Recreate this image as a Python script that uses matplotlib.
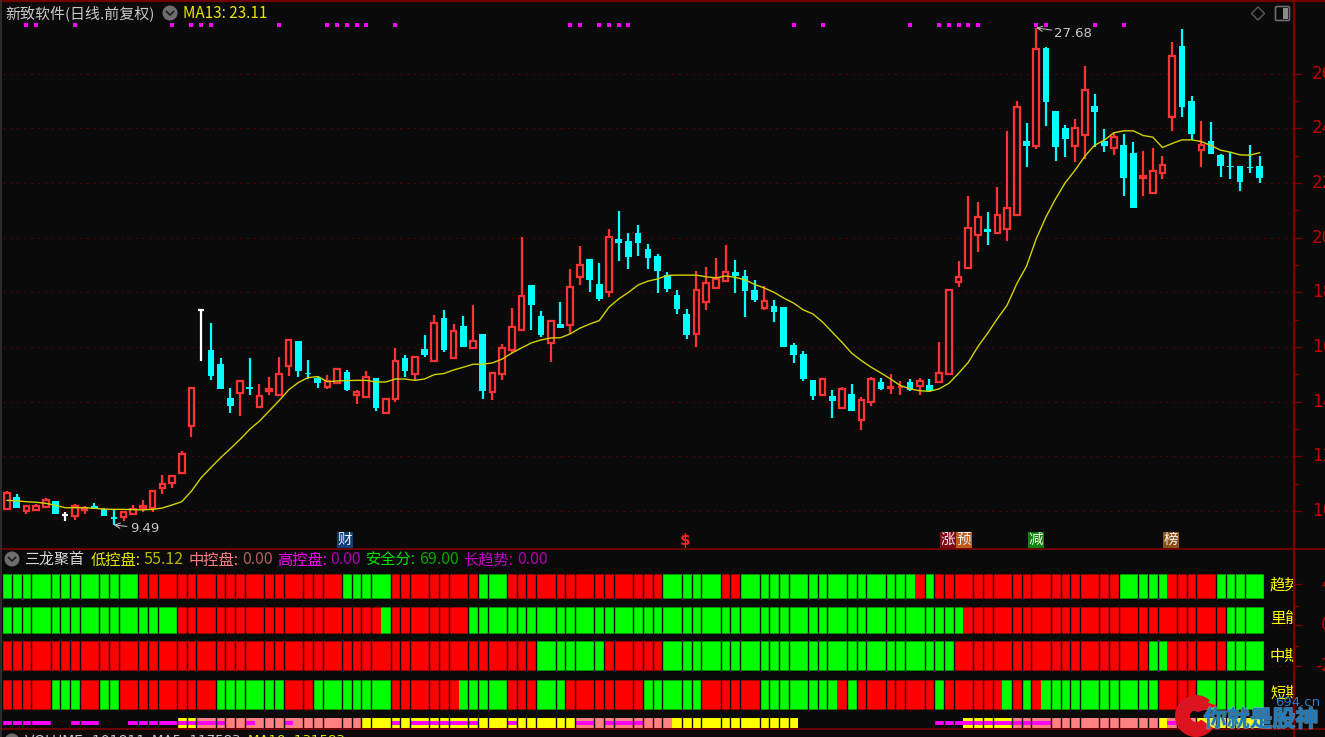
import matplotlib
matplotlib.use("Agg")
import matplotlib.pyplot as plt
import matplotlib.patheffects as pe
from matplotlib.patches import Circle, Polygon, Rectangle, Wedge, FancyBboxPatch

plt.rcParams['font.family'] = ['Noto Sans CJK SC', 'DejaVu Sans']

# daily candles
opens = [10.06, 10.52, 10.01, 10.04, 10.16, 10.35, 9.85, 9.83, 10.04, 10.17,
         10.07, 9.77, 9.77, 9.88, 10.10, 10.10, 10.83, 11.01, 11.38, 13.10,
         17.36, 15.89, 15.38, 14.15, 14.32, 14.53, 13.82, 14.39, 14.23, 15.29,
         16.21, 15.06, 14.86, 14.55, 14.67, 15.08, 14.23, 14.18, 14.88, 13.59,
         14.10, 15.61, 15.00, 15.92, 15.50, 17.08, 15.60, 16.76, 15.97, 16.48,
         14.35, 15.00, 15.89, 16.64, 18.26, 17.13, 16.15, 16.84, 16.82, 18.57,
         19.23, 18.31, 18.00, 19.96, 19.87, 20.19, 19.59, 19.32, 18.64, 17.91,
         17.22, 16.47, 17.66, 18.15, 18.43, 18.73, 18.59, 18.09, 17.44, 17.49,
         17.46, 16.08, 15.75, 14.79, 14.26, 14.20, 13.76, 14.28, 13.34, 13.99,
         14.72, 14.49, 14.53, 14.73, 14.59, 14.61, 14.73, 15.00, 18.37, 18.90,
         20.09, 20.33, 20.18, 20.32, 20.82, 23.54, 23.34, 26.94, 24.64, 24.00,
         23.34, 23.75, 24.83, 23.54, 23.30, 23.41, 23.09, 22.19, 21.64, 22.38,
         24.40, 27.03, 25.01, 23.20, 23.54, 23.04, 22.64, 22.63, 22.59, 22.63]
highs = [10.73, 10.61, 10.20, 10.27, 10.48, 10.35, 9.98, 10.27, 10.17, 10.30,
         10.12, 10.06, 10.00, 10.22, 10.40, 10.76, 11.32, 11.32, 12.18, 14.51,
         17.38, 16.89, 15.61, 14.51, 14.78, 15.61, 14.65, 14.92, 15.65, 16.25,
         16.21, 15.53, 14.94, 14.97, 15.18, 15.16, 14.43, 15.11, 14.88, 14.15,
         15.98, 15.71, 15.65, 16.44, 17.17, 17.36, 16.84, 17.13, 17.53, 16.48,
         15.06, 16.10, 17.44, 20.04, 18.26, 17.31, 16.97, 17.64, 18.86, 19.69,
         19.23, 19.09, 20.32, 20.97, 20.19, 20.47, 19.78, 19.41, 18.73, 18.09,
         17.39, 18.79, 18.91, 19.27, 19.74, 19.19, 18.82, 18.46, 18.22, 17.72,
         17.46, 16.16, 15.84, 14.79, 14.83, 14.43, 14.53, 14.65, 14.16, 14.89,
         14.87, 15.02, 14.75, 14.83, 14.88, 14.83, 16.17, 18.08, 19.14, 21.53,
         21.30, 20.93, 21.85, 23.91, 25.01, 24.18, 27.68, 26.99, 24.64, 24.14,
         24.36, 26.29, 25.24, 23.96, 23.86, 23.78, 23.49, 23.18, 23.27, 22.99,
         27.17, 27.63, 25.19, 24.28, 24.23, 23.08, 23.12, 22.63, 23.41, 22.99]
lows = [10.04, 10.10, 9.90, 10.00, 10.11, 9.90, 9.63, 9.67, 9.90, 10.06,
        9.83, 9.49, 9.63, 9.85, 9.95, 9.98, 10.63, 10.83, 11.34, 12.70,
        15.49, 14.79, 14.45, 13.57, 13.48, 14.26, 13.82, 14.26, 14.23, 14.94,
        14.89, 14.82, 14.49, 14.48, 14.64, 14.39, 13.93, 14.18, 13.66, 13.59,
        13.99, 14.90, 14.79, 15.64, 15.50, 15.81, 15.60, 15.99, 15.97, 14.11,
        14.07, 14.81, 15.78, 16.59, 16.64, 16.36, 15.44, 16.69, 16.48, 18.27,
        18.00, 17.68, 17.82, 19.14, 18.87, 19.34, 18.87, 17.97, 18.00, 17.22,
        16.31, 15.99, 17.36, 18.15, 18.43, 17.97, 17.09, 17.63, 17.36, 16.91,
        15.99, 15.43, 14.74, 14.06, 14.26, 13.41, 13.73, 13.66, 12.96, 13.83,
        14.44, 14.29, 14.24, 14.39, 14.26, 14.38, 14.67, 15.00, 18.19, 18.90,
        19.47, 19.74, 20.18, 19.89, 20.82, 22.59, 23.25, 24.09, 22.81, 22.94,
        22.77, 22.87, 23.32, 23.13, 23.01, 21.54, 21.08, 21.54, 21.64, 22.13,
        23.92, 24.42, 23.59, 22.59, 23.06, 22.22, 22.13, 21.72, 22.36, 21.99]
closes = [10.67, 10.10, 10.20, 10.17, 10.39, 9.90, 9.85, 10.17, 10.12, 10.06,
          9.83, 9.71, 9.95, 10.09, 10.17, 10.72, 10.98, 11.28, 12.10, 14.49,
          17.36, 14.94, 14.45, 13.86, 14.76, 14.48, 14.22, 14.48, 15.00, 16.25,
          15.12, 15.00, 14.67, 14.76, 15.18, 14.43, 14.37, 14.90, 13.76, 14.10,
          15.50, 15.12, 15.65, 15.71, 16.88, 15.89, 16.60, 16.01, 16.23, 14.40,
          15.06, 15.97, 16.75, 17.88, 17.55, 16.44, 16.97, 16.71, 18.21, 18.99,
          18.47, 17.76, 20.04, 19.80, 19.29, 19.80, 19.24, 18.79, 18.13, 17.39,
          16.44, 18.07, 18.35, 18.49, 18.75, 18.60, 18.04, 17.71, 17.70, 17.27,
          16.00, 15.72, 14.82, 14.20, 14.82, 14.01, 14.46, 13.66, 14.05, 14.84,
          14.46, 14.53, 14.54, 14.44, 14.77, 14.38, 15.05, 18.08, 18.55, 20.35,
          20.77, 20.21, 20.82, 21.10, 24.77, 23.37, 26.92, 24.97, 23.32, 23.60,
          24.03, 25.41, 24.61, 23.37, 23.67, 22.19, 21.08, 22.24, 22.43, 22.65,
          26.65, 24.79, 23.78, 23.40, 23.08, 22.64, 22.60, 22.05, 22.54, 22.19]
ma13 = [10.39, 10.37, 10.34, 10.32, 10.28, 10.21, 10.12, 10.12, 10.12, 10.10,
        10.07, 10.06, 10.06, 10.05, 10.04, 10.06, 10.11, 10.22, 10.34, 10.73,
        11.22, 11.59, 11.95, 12.28, 12.62, 12.99, 13.29, 13.66, 14.03, 14.43,
        14.70, 14.88, 14.92, 14.73, 14.76, 14.77, 14.78, 14.78, 14.72, 14.72,
        14.83, 14.83, 14.78, 14.83, 14.99, 15.03, 15.16, 15.26, 15.37, 15.37,
        15.42, 15.56, 15.78, 15.97, 16.15, 16.26, 16.33, 16.34, 16.48, 16.69,
        16.84, 16.97, 17.46, 17.76, 18.00, 18.27, 18.41, 18.49, 18.62, 18.63,
        18.63, 18.63, 18.57, 18.53, 18.60, 18.55, 18.46, 18.29, 18.16, 18.00,
        17.79, 17.61, 17.36, 17.21, 16.91, 16.54, 16.17, 15.77, 15.50, 15.26,
        15.05, 14.83, 14.59, 14.47, 14.40, 14.38, 14.47, 14.67, 15.04, 15.44,
        16.02, 16.51, 17.04, 17.53, 18.32, 18.96, 19.96, 20.76, 21.43, 22.02,
        22.47, 22.98, 23.38, 23.57, 23.84, 23.91, 23.91, 23.74, 23.68, 23.30,
        23.45, 23.58, 23.58, 23.52, 23.37, 23.20, 23.13, 23.03, 23.02, 23.11]

# bars that carry a magenta dot on the top edge
dot_bars = [2, 3, 7, 17, 19, 20, 21, 28, 33, 34, 35, 36, 37, 40, 58, 59, 61, 62,
            63, 64, 81, 84, 93, 96, 97, 98, 99, 100, 106, 107, 112, 115]

price_ticks = [10, 12, 14, 16, 18, 20, 22, 24, 26]
minor_ticks = [11, 13, 15, 17, 19, 21, 23, 25]

# signal tags under the candles
tag_bars = [34.8, 96.9, 98.55, 106, 119.85]
tag_text = ['财', '涨', '预', '减', '榜']
tag_colors = ['#0c3f7c', '#7c0c18', '#bf5a16', '#118211', '#8a5216']

# indicator rows as (state, number of bars), 1 green / 0 red
row_names = ['趋势', '里能', '中期', '短期']
trend_runs = [(1, 14), (0, 21), (1, 5), (0, 9), (1, 3), (0, 16), (1, 6), (0, 2),
              (1, 18), (0, 1), (1, 1), (0, 19), (1, 5), (0, 5), (1, 5)]
energy_runs = [(1, 18), (0, 21), (1, 1), (0, 8), (1, 51), (0, 27), (1, 4)]
mid_runs = [(0, 55), (1, 7), (0, 6), (1, 30), (0, 20), (1, 2), (0, 6), (1, 4)]
short_runs = [(0, 5), (1, 3), (0, 2), (1, 2), (0, 10), (1, 7), (0, 3), (1, 8),
              (0, 7), (1, 5), (0, 3), (1, 3), (0, 8), (1, 6), (0, 6), (1, 8),
              (0, 1), (1, 1), (0, 8), (1, 1), (0, 6), (1, 1), (0, 1), (1, 1),
              (0, 1), (1, 12), (0, 4), (1, 7)]
# bottom strip: n none, m magenta, p pink, y yellow, P pink+magenta, Y yellow+magenta
strip_runs = [('m', 5), ('n', 2), ('m', 3), ('n', 3), ('m', 5), ('Y', 2), ('P', 3),
              ('p', 2), ('P', 1), ('p', 3), ('P', 1), ('p', 7), ('y', 3), ('Y', 1),
              ('y', 1), ('Y', 7), ('y', 3), ('Y', 1), ('y', 6), ('P', 2), ('p', 1),
              ('P', 4), ('p', 3), ('y', 13), ('n', 14), ('m', 3), ('Y', 5), ('P', 4),
              ('p', 11), ('y', 1), ('P', 1), ('p', 2), ('y', 7)]
# single-width cells between the double-width ones, the software's pixel rounding
narrow_runs = [3, 3, 2, 2, 2, 3, 2, 2, 3, 2, 2, 2, 3, 2, 2,
               3, 2, 2, 3, 2, 2, 2, 3, 2, 2, 3, 2, 2, 2, 3]

W, H = 1325, 737
BG = '#0a0a0a'
GRID = '#6a0000'
AXIS = '#6e0000'
UP = '#ff3333'
DOWN = '#00ffff'
STEP = 9.71      # pixels per bar
X0 = 7.0         # pixel centre of the first bar
LEFT, RIGHT = 3, 1294
PANEL_TOP, PANEL_MID, PANEL_BOT = 2, 549, 729
PX_PER_YUAN = 27.33
Y10 = 511        # pixel row of price 10


def expand(runs):
    out = []
    for state, n in runs:
        out += [state] * n
    return out


def make_axes(fig, top, bottom):
    ax = fig.add_axes([LEFT / W, 1 - bottom / H, (RIGHT - LEFT) / W, (bottom - top) / H])
    ax.set_xlim((LEFT - X0) / STEP, (RIGHT - X0) / STEP)
    ax.set_facecolor(BG)
    ax.axis('off')
    return ax


fig = plt.figure(figsize=(W / 100, H / 100), dpi=100, facecolor=BG)

# ---- price panel
ax = make_axes(fig, PANEL_TOP, PANEL_MID)
ax.set_ylim(10 - (PANEL_MID - Y10) / PX_PER_YUAN, 10 + (Y10 - PANEL_TOP) / PX_PER_YUAN)
for t in price_ticks:
    ax.axhline(t, color=GRID, lw=0.85, ls=(0, (1.3, 4.6)), zorder=1)

for i in range(len(opens)):
    o, h, l, c = opens[i], highs[i], lows[i], closes[i]
    top, bot = max(o, c), min(o, c)
    if o == c:
        # doji days are drawn white
        ax.vlines(i, l, h, color='white', lw=1.6, zorder=3)
        ax.hlines(c, i - 0.33, i + 0.33, color='white', lw=1.6, zorder=3)
    elif c > o:
        ax.vlines(i, top, h, color=UP, lw=1.6, zorder=3)
        ax.vlines(i, l, bot, color=UP, lw=1.6, zorder=3)
        ax.bar(i, top - bot, bottom=bot, width=0.58, facecolor=BG, edgecolor=UP, lw=1.6, zorder=3)
    else:
        ax.vlines(i, l, h, color=DOWN, lw=1.6, zorder=3)
        ax.bar(i, top - bot, bottom=bot, width=0.68, color=DOWN, lw=0, zorder=3)

ax.plot(range(len(ma13)), ma13, color='#d2d200', lw=1.0, zorder=4)

for xy, label, off in [((11, 9.49), '9.49', (11.5, -2.5)), ((106, 27.68), '27.68', (13, -4))]:
    ax.annotate(label, xy=xy, xytext=off, textcoords='offset points', color='#c8c8c8',
                fontsize=9.5, va='center', family=['DejaVu Sans'], zorder=5,
                arrowprops=dict(arrowstyle='->', color='#c8c8c8', lw=0.7, shrinkA=0, shrinkB=0))

# ---- indicator panel
ax2 = make_axes(fig, PANEL_MID, PANEL_BOT)
ax2.set_ylim(PANEL_BOT, PANEL_MID)
row_spans = [(574, 599), (607, 634), (641, 671), (680, 710)]
all_rows = [expand(trend_runs), expand(energy_runs), expand(mid_runs), expand(short_runs)]
for (y0, y1), row in zip(row_spans, all_rows):
    xs = range(len(row))
    ax2.bar(xs, y1 - y0, bottom=y0, width=1, lw=0,
            color=['#009a00' if v else '#a00000' for v in row], zorder=2)
    ax2.bar(xs, y1 - y0 - 1.6, bottom=y0 + 0.8, width=1, lw=0,
            color=['#00ff00' if v else '#ff0000' for v in row], zorder=2)

strip = expand(strip_runs)
strip_fill = {'p': '#ff8080', 'P': '#ff8080', 'y': '#ffff00', 'Y': '#ffff00'}
for i, s in enumerate(strip):
    if s in strip_fill:
        ax2.bar(i, 10, bottom=718, width=1, color=strip_fill[s], lw=0, zorder=2)
    if s in 'mPY':
        ax2.bar(i, 3.6, bottom=721.2, width=1, color='#ff00ff', lw=0, zorder=3)

# gaps between the cells, missing inside the double-width cells
seams = []
b = 0
for n in narrow_runs:
    seams += [b + k for k in range(n + 1)]
    b += n + 2
seams.append(b)
for s in seams:
    ax2.vlines(s - 0.5, 572, 729, color=BG, lw=1.0, zorder=4)
for gap in [(599, 607), (634, 641), (671, 680), (710, 718)]:
    ax2.axhspan(gap[0], gap[1], color=BG, lw=0, zorder=3.5)

# ---- chrome drawn in pixel coordinates
ov = fig.add_axes([0, 0, 1, 1])
ov.set_xlim(0, W)
ov.set_ylim(H, 0)
ov.axis('off')
ov.patch.set_alpha(0)


def bar_px(i):
    return X0 + STEP * i


ov.plot([0, W], [1, 1], color=AXIS, lw=1.6)
ov.plot([0, W], [PANEL_MID, PANEL_MID], color=AXIS, lw=1.4)
ov.plot([0, W], [PANEL_BOT, PANEL_BOT], color=AXIS, lw=1.4)
ov.plot([1, 1], [0, H], color='#333333', lw=1.2)
ov.plot([RIGHT, RIGHT], [0, H], color='#7a0000', lw=1.6)

for t in price_ticks:
    y = Y10 - (t - 10) * PX_PER_YUAN
    ov.plot([RIGHT, 1301], [y, y], color='#7a0000', lw=1)
    ov.text(1312, y, str(t), color='#c00000', fontsize=12, va='center', family=['DejaVu Sans'])
for t in minor_ticks:
    y = Y10 - (t - 10) * PX_PER_YUAN
    ov.plot([RIGHT, 1298], [y, y], color='#7a0000', lw=1)

# ticks of the lower panel, their labels run off the picture
for y, label, x in [(584, '4', 1321), (625, '0', 1321), (666, '-2', 1315)]:
    ov.plot([RIGHT, 1301], [y, y], color='#7a0000', lw=1)
    ov.text(x, y, label, color='#c00000', fontsize=12, va='center', family=['DejaVu Sans'])
for y in [606, 646]:
    ov.plot([RIGHT, 1298], [y, y], color='#7a0000', lw=1)
for y in [625, 666]:
    ov.plot([1265, RIGHT], [y, y], color=GRID, lw=0.85, ls=(0, (1.3, 4.6)))

ov.scatter([bar_px(i) for i in dot_bars], [24.5] * len(dot_bars), marker='s', s=8,
           color='#ff00ff', lw=0, zorder=5)


def chevron_button(x, y):
    ov.add_patch(Circle((x, y), 7.5, color='#6e6e6e', lw=0))
    ov.plot([x - 3.5, x, x + 3.5], [y - 1.5, y + 2, y - 1.5], color='#1a1a1a', lw=1.2)


chevron_button(170, 13)
chevron_button(12, 559)
chevron_button(12, 741)

ov.text(5, 13, '新致软件(日线.前复权)', color='#c8c8c8', fontsize=10.8, va='center')
ov.text(183, 13, 'MA13: 23.11', color='#e6e600', fontsize=11, va='center')

# top right buttons
ov.add_patch(Polygon([(1258, 7), (1264.5, 13.5), (1258, 20), (1251.5, 13.5)], closed=True,
                     fill=False, edgecolor='#5a5a5a', lw=1))
ov.add_patch(FancyBboxPatch((1277, 8), 11, 11, boxstyle='round,pad=1.5', fill=False,
                            edgecolor='#6e6e6e', lw=1.2))
ov.add_patch(Rectangle((1282.5, 8), 5.5, 11, color='#8c8c8c', lw=0))

for i, text, color in zip(tag_bars, tag_text, tag_colors):
    x = bar_px(i)
    ov.add_patch(Rectangle((x - 8, 532), 16, 16, color=color, lw=0))
    ov.text(x, 540, text, color='#f0f0f0', fontsize=10.5, ha='center', va='center')
ov.text(685, 541, '$', color='#ff2020', fontsize=11, fontweight='bold', ha='center', va='center',
        family=['DejaVu Sans'])

# indicator readout line
ov.text(24, 560, '三龙聚首', color='#d8d8d8', fontsize=10.8, va='center')
readouts = [(91, '低控盘:', '55.12', '#e6e600', '#b4b400', 53),
            (189, '中控盘:', '0.00', '#ff8080', '#b06060', 53),
            (277, '高控盘:', '0.00', '#ff00ff', '#b000b0', 53),
            (366, '安全分:', '69.00', '#00e000', '#00a800', 53),
            (463, '长趋势:', '0.00', '#c000c0', '#b000b0', 54)]
for x, name, value, c1, c2, dx in readouts:
    ov.text(x, 560, name, color=c1, fontsize=11, va='center')
    ov.text(x + dx, 560, value, color=c2, fontsize=11.5, va='center')

# row names are cut by the price axis line
for y, name in zip([585, 618, 656, 693], row_names):
    label = ov.text(1270, y, name, color='#ffff00', fontsize=11, va='center')
    label.set_clip_path(Rectangle((1265, 560), 28, 170, transform=ov.transData))
    label.set_clip_on(True)

# next panel, only the top of its header is inside the picture
ov.text(25, 741, 'VOLUME: 101811', color='#c8c8c8', fontsize=10, va='center',
        family=['DejaVu Sans'])
ov.text(152, 741, 'MA5: 117583', color='#c8c8c8', fontsize=9.5, va='center', family=['DejaVu Sans'])
ov.text(248, 741, 'MA10: 131583', color='#e6e600', fontsize=9.5, va='center', family=['DejaVu Sans'])

# watermark
ov.add_patch(Wedge((1196, 716), 21, 35, 312, width=15, color='#dc1420', lw=0, zorder=8))
ov.add_patch(Polygon([(1184, 708), (1198, 712), (1218, 706), (1198, 699)], closed=True,
                     color='#dc1420', lw=0, zorder=8))
ov.text(1261, 720, '你就是股神', color='#1f7cbc', fontsize=16.5, fontweight='bold',
        ha='center', va='center', zorder=9,
        path_effects=[pe.withStroke(linewidth=1.2, foreground='#9fc4dc', alpha=0.5)])
ov.text(1298, 702, '694.cn', color='#2a7cc4', fontsize=9.5, ha='center', va='center',
        family=['DejaVu Sans'], zorder=9)

fig.savefig('out.png', dpi=100, facecolor=BG)
